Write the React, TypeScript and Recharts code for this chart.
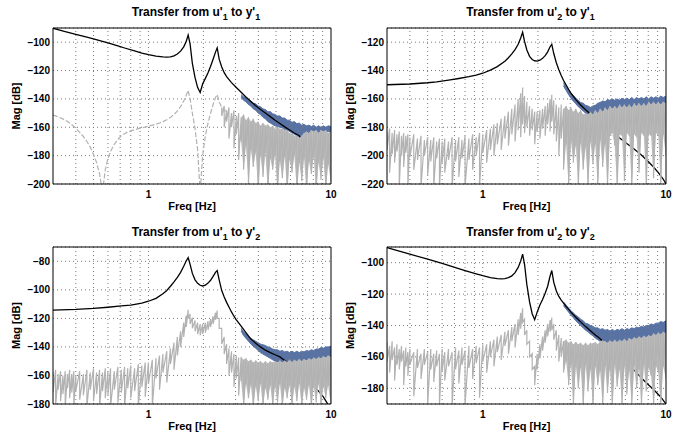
import React from 'react';
import { ComposedChart, Line, Area, XAxis, YAxis, CartesianGrid, ReferenceLine, ReferenceArea } from 'recharts';

const FONT = '"Liberation Sans", Arial, Helvetica, sans-serif';
const GRAY = '#b2b2b2';
const GRAY_FILL = '#bdbdbd';
const BLUE = '#5872a4';
const GRID = '#7a7a7a';

// shared frequency grid of the measured spectra (Hz)
const NOISE_F = [
  0.30, 0.31, 0.32, 0.33, 0.34, 0.35, 0.36, 0.37, 0.38, 0.39,
  0.40, 0.42, 0.44, 0.46, 0.48, 0.50, 0.52, 0.54, 0.56, 0.58,
  0.60, 0.62, 0.65, 0.68, 0.71, 0.74, 0.77, 0.80, 0.84, 0.88,
  0.92, 0.96, 1.00, 1.05, 1.10, 1.15, 1.20, 1.26, 1.32, 1.38,
  1.44, 1.50, 1.56, 1.61, 1.65, 1.69, 1.74, 1.80, 1.86, 1.92,
  1.98, 2.05, 2.12, 2.19, 2.26, 2.33, 2.38, 2.44, 2.52, 2.60,
  2.68, 2.76, 2.85, 2.94, 3.03, 3.12, 3.22, 3.32, 3.42, 3.53,
  3.64, 3.75, 3.87, 3.99, 4.11, 4.24, 4.37, 4.51, 4.65, 4.79,
  4.94, 5.09, 5.25, 5.41, 5.58, 5.75, 5.93, 6.11, 6.30, 6.50,
  6.70, 6.91, 7.12, 7.34, 7.57, 7.80, 8.04, 8.29, 8.55, 8.81,
  9.08, 9.36, 9.65, 10.0,
];
const X_GRID = [0.4, 0.5, 0.6, 0.7, 0.8, 0.9, 1, 2, 3, 4, 5, 6, 7, 8, 9];
const X_TICKS = [1, 10];

// ---------- u'1 -> y'1 ----------
const TL_Y_TICKS = [-200, -180, -160, -140, -120, -100];
const TL_MODEL_F = [
  0.30, 0.35, 0.40, 0.46, 0.50, 0.56, 0.62, 0.68, 0.74, 0.84,
  0.92, 1.00, 1.10, 1.20, 1.26, 1.32, 1.38, 1.44, 1.50, 1.56,
  1.61, 1.65, 1.69, 1.74, 1.80, 1.86, 1.92, 1.98, 2.05, 2.12,
  2.19, 2.26, 2.33, 2.38, 2.44, 2.52, 2.60, 2.68, 2.85, 3.03,
  3.22, 3.42, 3.64, 3.87, 4.11, 4.37, 4.65, 4.94, 5.25, 5.58,
  5.93, 6.30, 6.70, 6.91, 7.34, 7.80, 8.29, 8.81, 9.36, 10.0,
];
const TL_MODEL_DB = [
  -90.2, -92.5, -94.5, -96.5, -97.7, -99.5, -101.1, -102.6, -104.1, -106.2,
  -107.7, -108.8, -109.8, -110.4, -110.5, -110.3, -109.6, -108.3, -106.3, -103.3,
  -99.5, -95, -101, -115, -125, -132, -135.5, -129.5, -125.5, -121.5,
  -117, -112, -107, -104, -112, -117.5, -121.5, -124.3, -128.5, -132,
  -135.3, -138.7, -141.8, -144.8, -147.5, -149.9, -152.5, -155, -157.4, -159.7,
  -161.9, -164, -166, -168.5, -171, -173.5, -176, -178.5, -181, -184,
];
const TL_GRAY_LINE = [
  -151.4, -152.0, -152.7, -153.4, -154.2, -155.0, -156.0, -157.0, -158.2, -159.5,
  -160.8, -163.5, -166.5, -170, -174, -179, -185, -193, -206, -190,
  -182, -177, -172, -168.5, -166, -164.5, -163.3, -162.5, -161.7, -161,
  -160.4, -159.8, -159.2, -158.5, -157.8, -157, -156, -154.7, -153, -151,
  -148.5, -145.5, -141.5, -137.5, -134, -140, -150, -161, -176, -206,
  -180, -166, -157, -150, -144, -139, -137, -142, -146, -147,
  -150,
];
const TL_GRAY_HI = [
  -146, -145, -148, -146, -150, -148, -152, -150, -153, -151,
  -155, -153, -156, -154, -157, -156, -159, -157, -159, -158,
  -160, -159, -161, -160, -161, -161, -162, -162.5, -164, -164.5,
  -166, -166, -167.5, -166, -164, -163, -164, -162, -163, -162,
  -164, -162, -163, -162, -164, -163,
];
const TL_GRAY_LO = [
  -152, -160, -156, -168, -160, -175, -165, -183, -170, -190,
  -173, -200, -176, -188, -178, -205, -180, -195, -178, -205,
  -182, -190, -180, -205, -184, -196, -181, -205, -183, -192,
  -180, -205, -185, -198, -182, -205, -184, -193, -181, -205,
  -185, -197, -182, -205, -186, -199,
];
const TL_BLUE_HI = [
  -137, -138.5, -139, -141, -141.5, -143, -143.5, -145, -145.5, -147,
  -147.5, -149, -149, -150.5, -151, -152, -152, -153.5, -153.5, -155,
  -155, -156.5, -156, -157.5, -157, -158.5, -158, -159, -158.5, -159.5,
  -158.5, -160, -159, -160, -159, -160, -159, -159.5,
];
const TL_BLUE_LO = [
  -139, -141, -142, -144, -145, -147, -148, -150, -151, -153,
  -154, -156, -157, -158, -159, -159.5, -160, -160.5, -161.5, -162,
  -163, -164, -165, -166, -167, -167, -165, -164, -164, -163,
  -164, -163, -164, -163, -164, -163, -163, -164,
];

// ---------- u'2 -> y'1 ----------
const TR_Y_TICKS = [-220, -200, -180, -160, -140, -120];
const TR_MODEL_F = [
  0.30, 0.40, 0.50, 0.56, 0.65, 0.74, 0.84, 0.92, 1.00, 1.10,
  1.20, 1.32, 1.38, 1.44, 1.50, 1.56, 1.61, 1.65, 1.69, 1.74,
  1.80, 1.86, 1.92, 1.98, 2.05, 2.12, 2.19, 2.26, 2.33, 2.38,
  2.44, 2.52, 2.60, 2.68, 2.76, 2.85, 2.94, 3.03, 3.22, 3.42,
  3.64, 3.87, 4.24, 4.65, 5.09, 5.58, 6.11, 6.70, 7.34, 8.04,
  8.55, 9.08, 9.65, 10.0,
];
const TR_MODEL_DB = [
  -150, -149.5, -148.6, -148, -146.8, -145.6, -144.3, -143.2, -141.9, -139.7,
  -137.2, -133.4, -131, -128.3, -125.2, -121.5, -117, -113, -119.5, -125.5,
  -130, -132.2, -133.1, -133.3, -132.7, -131.4, -129.5, -126.8, -123.2, -121.5,
  -128, -134.5, -139.5, -143.5, -147, -150.2, -153.3, -156, -160.5, -164.3,
  -167.6, -170.6, -174.7, -178.6, -182.6, -187.5, -191.5, -195.3, -199.5, -204.5,
  -208, -212, -216.5, -220,
];
const TR_GRAY_HI = [
  -183, -181, -184, -182, -185, -183, -186, -184, -186, -185,
  -187, -185, -188, -186, -189, -187, -189, -187, -190, -188,
  -190, -188, -190, -187, -189, -187, -189, -186, -188, -185,
  -187, -184, -185, -182, -181, -178, -177, -174, -172, -169,
  -167, -164, -160, -156, -152, -158, -162, -165, -167, -169,
  -169, -168, -167, -165, -163, -160, -157, -161, -164, -166,
  -164, -167, -165, -168, -166, -169, -167, -170, -168, -171,
  -170, -171, -169, -171, -168, -170, -167, -169, -166, -168,
  -165, -167, -165, -167, -164, -166, -164, -166, -164, -166,
  -163, -165, -163, -165, -163, -165, -162, -164, -162, -164,
  -162, -164, -162, -163,
];
const TR_GRAY_LO = [
  -196, -212, -199, -205, -197, -222, -200, -208, -198, -222,
  -201, -210, -203, -222, -200, -214, -204, -222, -202, -222,
  -205, -212, -203, -222, -204, -215, -202, -222, -203, -210,
  -200, -222, -198, -205, -196, -200, -192, -196, -188, -193,
  -185, -190, -182, -187, -178, -184, -180, -186, -182, -192,
  -183, -188, -181, -186, -178, -183, -176, -185, -190, -200,
  -188, -210, -192, -222, -190, -205, -193, -222, -191, -210,
  -194, -222, -190, -206, -192, -222, -189, -208, -192, -222,
  -186, -184, -193, -222, -185, -186, -218, -184, -186, -222,
  -185, -187, -212, -184, -186, -222, -185, -186, -216, -184,
  -186, -222, -185, -200,
];
const TR_BLUE_HI = [
  -148.5, -151.5, -154, -156, -157.5, -159.5, -161, -162.5, -163, -164.5,
  -165, -166, -165, -164.5, -163, -162.5, -161.5, -162, -160.5, -161,
  -160, -161, -160, -161, -159.5, -160.5, -159.5, -160.5, -159, -160.5,
  -159, -160, -159, -160, -158.5, -160, -158.5, -159.5, -158.5, -159.5,
  -158, -159, -158,
];
const TR_BLUE_LO = [
  -151, -154, -157, -159.5, -161.5, -163.5, -165.5, -167, -168.5, -170,
  -171, -171, -171, -170, -170, -169, -169, -168, -168, -167,
  -167, -166, -167, -166, -166, -166, -166, -165, -166, -165,
  -165, -165, -165, -165, -165, -164, -164, -164, -164, -164,
  -164, -164, -164,
];

// ---------- u'1 -> y'2 ----------
const BL_Y_TICKS = [-180, -160, -140, -120, -100, -80];
const BL_MODEL_F = [
  0.30, 0.40, 0.50, 0.60, 0.71, 0.80, 0.92, 1.00, 1.10, 1.20,
  1.26, 1.32, 1.38, 1.44, 1.50, 1.56, 1.61, 1.65, 1.69, 1.74,
  1.80, 1.86, 1.92, 1.98, 2.05, 2.12, 2.19, 2.26, 2.33, 2.38,
  2.44, 2.52, 2.60, 2.68, 2.76, 2.85, 2.94, 3.03, 3.22, 3.42,
  3.64, 3.87, 4.11, 4.37, 4.65, 4.94, 5.25, 5.58, 5.93, 6.30,
  6.70, 7.12, 7.57, 8.04, 8.55, 9.08, 9.65, 10.0,
];
const BL_MODEL_DB = [
  -114.2, -113.7, -113, -112.2, -111.3, -110.7, -109.3, -108, -106, -102.8,
  -100.5, -97.5, -94.5, -91.3, -87.8, -83.5, -79.8, -77.5, -82, -88.5,
  -93, -95.5, -96.8, -97.3, -96.8, -95.3, -93.3, -90.6, -87.8, -86.5,
  -93, -100.5, -105, -108.8, -112, -115.5, -118.5, -121, -125.5, -130,
  -134.5, -137.5, -140, -142.3, -144, -145.5, -147, -149.5, -152, -154.5,
  -157.5, -160.5, -164, -167.5, -171, -175, -180.5, -184,
];
const BL_GRAY_HI = [
  -158, -156, -159, -157, -160, -157, -159, -156, -159, -157,
  -160, -157, -159, -156, -158, -155, -158, -156, -158, -155,
  -157, -155, -157, -154, -156, -154, -155, -153, -155, -152,
  -153, -151, -151, -149, -148, -146, -145, -143, -141, -137,
  -133, -129, -123, -118, -114, -117, -119.5, -121.5, -123, -124,
  -124, -123, -122, -120.5, -118.5, -116, -114.5, -120, -127, -133,
  -138, -141, -143, -145, -146, -147.5, -147, -149, -148, -150,
  -149, -151, -149.5, -151, -150, -151.5, -150, -151.5, -150, -151,
  -150, -151, -149.5, -151, -149.5, -150.5, -149, -150.5, -149, -150,
  -148.5, -150, -148.5, -149.5, -148, -149, -147.5, -148.5, -147, -148,
  -146.5, -147.5, -146, -147,
];
const BL_GRAY_LO = [
  -172, -182, -170, -178, -173, -182, -169, -176, -172, -182,
  -171, -177, -174, -182, -170, -178, -173, -182, -171, -176,
  -174, -182, -170, -179, -172, -182, -169, -176, -171, -182,
  -168, -175, -166, -182, -162, -170, -158, -165, -152, -156,
  -146, -140, -133, -126, -120, -124, -127, -129, -131, -132,
  -131, -130, -128, -126, -124, -121, -120, -127, -138, -145,
  -152, -160, -158, -168, -162, -174, -164, -182, -166, -176,
  -167, -182, -168, -178, -166, -182, -169, -177, -167, -182,
  -168, -179, -166, -182, -169, -176, -167, -182, -168, -178,
  -166, -182, -169, -177, -167, -182, -168, -179, -166, -182,
  -168, -176, -167, -182,
];
const BL_BLUE_HI = [
  -127, -129.5, -131, -132.5, -134, -135, -136, -137, -138, -138.5,
  -139, -140, -140.5, -141.5, -142, -142, -143, -142.5, -143.5, -143,
  -144, -143, -144, -143, -144, -143, -143.5, -142.5, -143, -142,
  -142.5, -141.5, -141.5, -140.5, -141, -140, -140, -139.5,
];
const BL_BLUE_LO = [
  -129, -132, -134, -136, -138, -139.5, -141, -142.5, -144, -145,
  -146, -147, -148, -149, -150, -150.5, -151, -151, -151.5, -151,
  -151.5, -151, -151.5, -151, -151, -150.5, -151, -150, -150.5, -150,
  -150, -149.5, -149.5, -149, -149, -148.5, -148.5, -148,
];

// ---------- u'2 -> y'2 ----------
const BR_Y_TICKS = [-180, -160, -140, -120, -100];
const BR_MODEL_F = [
  0.30, 0.35, 0.40, 0.50, 0.60, 0.71, 0.80, 0.92, 1.00, 1.10,
  1.20, 1.26, 1.32, 1.38, 1.44, 1.50, 1.56, 1.61, 1.65, 1.69,
  1.74, 1.80, 1.86, 1.92, 1.98, 2.05, 2.12, 2.19, 2.26, 2.33,
  2.38, 2.44, 2.52, 2.60, 2.68, 2.76, 2.85, 2.94, 3.03, 3.22,
  3.42, 3.64, 3.87, 4.11, 4.24, 4.51, 4.94, 5.41, 5.93, 6.50,
  7.12, 7.80, 8.55, 9.36, 10.0,
];
const BR_MODEL_DB = [
  -90.4, -92.6, -94.6, -97.8, -100.5, -103.1, -105, -107.1, -108.3, -109.5,
  -110.1, -110.3, -110.1, -109.5, -108.4, -106.3, -103, -99, -94.5, -101,
  -114, -125, -132.5, -136.3, -131.5, -127, -123.5, -119.5, -115, -108.5,
  -105, -112.5, -118, -121.5, -123.8, -125.8, -127.8, -129.6, -131.5, -134.7,
  -137.7, -140.7, -143.4, -146, -147.2, -149.8, -153.5, -157.5, -162, -166.8,
  -171.8, -176.5, -180.8, -185.5, -190,
];
const BR_GRAY_HI = [
  -151, -153, -150, -154, -152, -155, -153, -156, -154, -157,
  -155, -157, -155, -158, -155, -157, -155, -158, -156, -158,
  -155, -157, -155, -157, -154, -156, -154, -156, -153, -155,
  -153, -154, -152, -152, -150, -149, -147, -146, -144, -143,
  -141, -139, -136, -132, -129, -136, -143, -150, -158, -166,
  -158, -152, -147, -143, -139, -136.5, -135, -139, -143, -146,
  -148, -150, -149, -151, -150, -152, -150.5, -152, -151, -152.5,
  -151, -152.5, -151, -152, -150.5, -152, -150, -149.5, -150, -151,
  -149.5, -150.5, -149, -150.5, -149, -150, -148.5, -150, -148, -149,
  -147.5, -148.5, -147, -148, -146.5, -147.5, -146, -147, -145, -146,
  -144.5, -145.5, -144, -145,
];
const BR_GRAY_LO = [
  -163, -170, -162, -175, -165, -168, -163, -178, -166, -172,
  -165, -185, -167, -174, -165, -191, -168, -176, -166, -191,
  -169, -175, -166, -191, -168, -177, -165, -191, -167, -174,
  -164, -186, -163, -170, -160, -166, -157, -162, -153, -158,
  -150, -154, -146, -142, -138, -146, -152, -160, -168, -178,
  -168, -161, -156, -151, -147, -144, -143, -149, -156, -163,
  -160, -170, -163, -178, -165, -191, -166, -180, -167, -191,
  -165, -182, -168, -191, -166, -178, -169, -191, -166, -183,
  -168, -191, -165, -179, -168, -191, -166, -184, -169, -191,
  -166, -180, -168, -191, -165, -182, -167, -172, -191, -166,
  -170, -191, -166, -174,
];
const BR_BLUE_HI = [
  -125, -127, -129, -130.5, -132, -133.5, -134.5, -136, -137, -138.5,
  -139, -140, -140.5, -141.5, -141.5, -142.5, -142, -143, -142.5, -143.5,
  -142.5, -143.5, -142.5, -143, -142, -143, -142, -142.5, -141.5, -142,
  -141, -141.5, -140.5, -141, -140, -140, -139, -139.5, -138.5, -138.5,
  -137.5, -138, -137,
];
const BR_BLUE_LO = [
  -127.5, -129.5, -131.5, -133.5, -135, -137, -138.5, -140, -141.5, -143,
  -144, -145.5, -146.5, -148, -149, -150, -151, -152, -152.5, -152.5,
  -153, -152.5, -152.5, -152, -152, -151.5, -151.5, -151, -151, -150.5,
  -150.5, -150, -150, -149.5, -149.5, -149, -149, -148.5, -148, -147.5,
  -147, -146.5, -146.5,
];

// ---------- helpers that turn the arrays into series rows ----------
const head = (n: number) => NOISE_F.slice(0, n);
const tail = (n: number) => NOISE_F.slice(NOISE_F.length - n);
const lineRows = (f: number[], v: number[]) => f.map((x, i) => ({ f: x, v: v[i] }));
const zigzagRows = (hi: number[], lo: number[]) =>
  tail(hi.length).flatMap((x, i) => [{ f: x, v: hi[i] }, { f: x, v: lo[i] }]);
const bandRows = (top: number[], bottom: number[]) =>
  tail(top.length).map((x, i) => ({ f: x, v: [bottom[i], top[i]] }));
// solid core of the measured noise band over the same span as the blue trace
const coreRows = (hi: number[], lo: number[], n: number) => bandRows(hi.slice(hi.length - n), lo.slice(lo.length - n));

type PanelCfg = {
  id: string; left: number; top: number; height: number; mTop: number; mRight: number; xH: number;
  labelOffset: number; sub: [string, string]; yDomain: [number, number]; yTicks: number[];
  model: any[]; gray: any[]; grayCore: any[]; blue: any[]; dashed?: any[];
};

const PANELS: PanelCfg[] = [
  {
    id: 'tl', left: 0, top: 0, height: 220, mTop: 28, mRight: 14, xH: 36, labelOffset: 10, sub: ['1', '1'],
    yDomain: [-200, -90], yTicks: TL_Y_TICKS,
    model: lineRows(TL_MODEL_F, TL_MODEL_DB), gray: zigzagRows(TL_GRAY_HI, TL_GRAY_LO),
    grayCore: coreRows(TL_GRAY_HI, TL_GRAY_LO, TL_BLUE_HI.length),
    blue: bandRows(TL_BLUE_HI, TL_BLUE_LO), dashed: lineRows(head(TL_GRAY_LINE.length), TL_GRAY_LINE),
  },
  {
    id: 'tr', left: 334, top: 0, height: 220, mTop: 28, mRight: 13, xH: 36, labelOffset: 10, sub: ['2', '1'],
    yDomain: [-220, -110], yTicks: TR_Y_TICKS,
    model: lineRows(TR_MODEL_F, TR_MODEL_DB), gray: zigzagRows(TR_GRAY_HI, TR_GRAY_LO),
    grayCore: coreRows(TR_GRAY_HI, TR_GRAY_LO, TR_BLUE_HI.length),
    blue: bandRows(TR_BLUE_HI, TR_BLUE_LO),
  },
  {
    id: 'bl', left: 0, top: 220, height: 219, mTop: 27, mRight: 14, xH: 35, labelOffset: 9, sub: ['1', '2'],
    yDomain: [-180, -70], yTicks: BL_Y_TICKS,
    model: lineRows(BL_MODEL_F, BL_MODEL_DB), gray: zigzagRows(BL_GRAY_HI, BL_GRAY_LO),
    grayCore: coreRows(BL_GRAY_HI, BL_GRAY_LO, BL_BLUE_HI.length),
    blue: bandRows(BL_BLUE_HI, BL_BLUE_LO),
  },
  {
    id: 'br', left: 334, top: 220, height: 219, mTop: 27, mRight: 13, xH: 35, labelOffset: 9, sub: ['2', '2'],
    yDomain: [-190, -90], yTicks: BR_Y_TICKS,
    model: lineRows(BR_MODEL_F, BR_MODEL_DB), gray: zigzagRows(BR_GRAY_HI, BR_GRAY_LO),
    grayCore: coreRows(BR_GRAY_HI, BR_GRAY_LO, BR_BLUE_HI.length),
    blue: bandRows(BR_BLUE_HI, BR_BLUE_LO),
  },
];

const TICK = { fontSize: 10, fontWeight: 'bold', fill: '#000', fontFamily: FONT };
const LABEL_STYLE = { fontSize: 11, fontWeight: 'bold', fill: '#000', fontFamily: FONT };
const fmtY = (v: number) => (v < 0 ? '\u2212' + Math.abs(v) : String(v));

function Panel({ p }: { p: PanelCfg }) {
  const yAxisW = 53;
  const plotW = 345 - yAxisW - p.mRight;
  const subStyle: React.CSSProperties = { fontSize: 9, position: 'relative', top: 4 };
  const z = (n: number) => ({ zIndex: n } as any);
  return (
    <div style={{ position: 'absolute', left: p.left, top: p.top, width: 345, height: p.height }}>
      <ComposedChart width={345} height={p.height} margin={{ top: p.mTop, right: p.mRight, bottom: 0, left: 0 }}>
        <CartesianGrid vertical={false} stroke={GRID} strokeDasharray="1 3" />
        {X_GRID.map((x) => (
          <ReferenceLine key={x} x={x} stroke={GRID} strokeDasharray="1 3" />
        ))}
        <XAxis
          dataKey="f" type="number" scale="log" domain={[0.3, 10]} allowDataOverflow
          ticks={X_TICKS} interval={0} tickLine={false} axisLine={false} height={p.xH}
          tickSize={5} tickMargin={2} tick={TICK} tickFormatter={(v: number) => String(v)}
          label={{ value: 'Freq [Hz]', position: 'insideBottom', offset: p.labelOffset, ...LABEL_STYLE }}
        />
        <YAxis
          type="number" domain={p.yDomain} ticks={p.yTicks} interval={0} allowDataOverflow
          width={yAxisW} tickLine={false} axisLine={false} tickSize={3} tickMargin={0}
          tick={TICK} tickFormatter={fmtY}
          label={{ value: 'Mag [dB]', angle: -90, position: 'insideLeft', offset: 16, ...LABEL_STYLE, style: { textAnchor: 'middle' } }}
        />
        <Area {...z(100)} data={p.blue} type="linear" dataKey="v" stroke={BLUE} strokeWidth={1} fill={BLUE} fillOpacity={1}
          isAnimationActive={false} dot={false} activeDot={false} />
        <Line {...z(400)} data={p.model} type="linear" dataKey="v" stroke="#000" strokeWidth={1.3}
          dot={false} activeDot={false} isAnimationActive={false} />
        <Area {...z(410)} data={p.grayCore} type="linear" dataKey="v" stroke="none" fill={GRAY_FILL} fillOpacity={1}
          isAnimationActive={false} dot={false} activeDot={false} />
        <Line {...z(420)} data={p.gray} type="linear" dataKey="v" stroke={GRAY} strokeWidth={1.2}
          dot={false} activeDot={false} isAnimationActive={false} />
        {p.dashed && (
          <Line {...z(420)} data={p.dashed} type="linear" dataKey="v" stroke={GRAY} strokeWidth={1.2} strokeDasharray="5 2"
            dot={false} activeDot={false} isAnimationActive={false} />
        )}
        <ReferenceArea {...z(500)} x1={0.3} x2={10} y1={p.yDomain[0]} y2={p.yDomain[1]} fill="none" stroke="#000" strokeWidth={1} />
      </ComposedChart>
      <div
        style={{
          position: 'absolute', left: yAxisW + 4, top: 5, width: plotW, textAlign: 'center',
          fontFamily: FONT, fontWeight: 'bold', fontSize: 12, lineHeight: '14px', whiteSpace: 'nowrap', color: '#000',
        }}
      >
        Transfer from u'<span style={subStyle}>{p.sub[0]}</span> to y'<span style={subStyle}>{p.sub[1]}</span>
      </div>
    </div>
  );
}

export default function App() {
  return (
    <div style={{ position: 'absolute', left: 0, top: 0, width: 689, height: 439, background: '#fff', overflow: 'hidden' }}>
      {PANELS.map((p) => (
        <Panel key={p.id} p={p} />
      ))}
    </div>
  );
}
